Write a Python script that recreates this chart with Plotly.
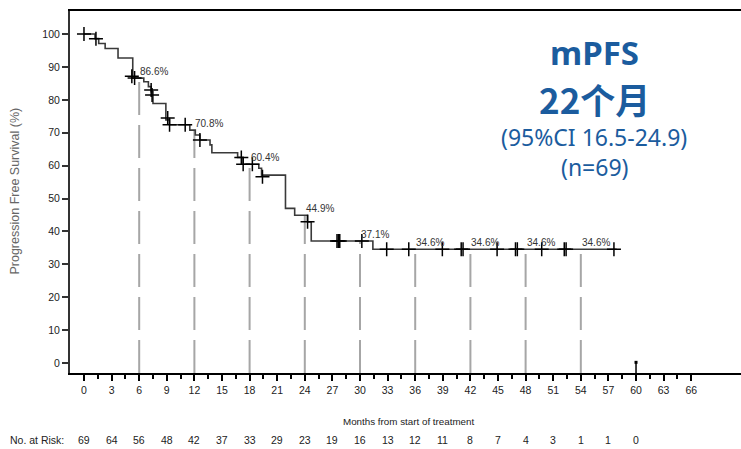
import plotly.graph_objects as go

# ---- data ----
step_t = [0, 1.2, 1.6, 2.3, 3.7, 5.3, 6.5, 7.0, 7.3, 7.5, 8.9, 9.3, 11.5, 12.1, 12.6,
          13.7, 13.9, 16.7, 17.3, 19.0, 19.3, 21.9, 22.9, 24.3, 24.7, 31.4]
step_s = [100, 98.6, 97.1, 95.6, 92.7, 86.6, 85.5, 84.0, 82.5, 78.9, 73.9, 72.4, 70.8, 69.3, 67.8,
          66.3, 63.9, 62.5, 60.4, 59.2, 57.1, 47.0, 44.9, 42.9, 37.1, 34.6]
curve_end = 57.9

cens_t = [0, 1.3, 5.2, 5.5, 7.3, 7.4, 9.1, 9.3, 11.0, 12.6, 17.1, 17.3, 18.3, 19.4, 24.3,
          27.5, 27.65, 27.8, 30.2, 32.9, 35.3, 38.95, 41.0, 41.2, 44.9, 46.9, 47.1,
          49.75, 52.2, 52.4, 57.6]
cens_s = [100, 98.6, 87.2, 86.6, 83.0, 81.5, 74.5, 72.4, 72.4, 67.8, 62.5, 60.4, 60.4, 56.6, 42.9,
          37.1, 37.1, 37.1, 37.1, 34.6, 34.6, 34.6, 34.6, 34.6, 34.6, 34.6, 34.6,
          34.6, 34.6, 34.6, 34.6]

landmark_t = [6, 12, 18, 24, 30, 36, 42, 48, 54]
landmark_s = [86.6, 70.8, 60.4, 44.9, 37.1, 34.6, 34.6, 34.6, 34.6]
landmark_lbl = ["86.6%", "70.8%", "60.4%", "44.9%", "37.1%", "34.6%", "34.6%", "34.6%", "34.6%"]

tick_months = list(range(0, 67, 3))
risk_months = list(range(0, 61, 3))
at_risk = [69, 64, 56, 48, 42, 37, 33, 29, 23, 19, 16, 13, 12, 11, 8, 7, 4, 3, 1, 1, 0]

end_mark_t = 60
end_mark_s = 0.2

YMIN, YMAX = -3.04, 107.0
XMIN, XMAX = -1.52, 71.41

SANS = "Liberation Sans, Arial, sans-serif"
BLUE = "#1B5C9E"

fig = go.Figure()

# dashed landmark lines
for t, s in zip(landmark_t, landmark_s):
    fig.add_trace(go.Scatter(x=[t, t], y=[YMIN, s], mode="lines",
                             line=dict(color="#a6a6a6", width=2, dash="33px,10px"),
                             hoverinfo="skip", showlegend=False))

# KM step curve
fig.add_trace(go.Scatter(x=step_t + [curve_end], y=step_s + [step_s[-1]], mode="lines",
                         line=dict(color="#3a3a3a", width=1.6, shape="hv"),
                         showlegend=False))

# censor marks
fig.add_trace(go.Scatter(x=cens_t, y=cens_s, mode="markers",
                         marker=dict(symbol="cross-thin", size=10,
                                     line=dict(color="black", width=1.5)),
                         showlegend=False))

# end mark at 60 months
fig.add_trace(go.Scatter(x=[end_mark_t, end_mark_t], y=[YMIN, end_mark_s], mode="lines",
                         line=dict(color="black", width=1.5), showlegend=False))
fig.add_trace(go.Scatter(x=[end_mark_t], y=[end_mark_s], mode="markers",
                         marker=dict(symbol="square", size=3, color="black"), showlegend=False))

# landmark labels
for t, s, lbl in zip(landmark_t, landmark_s, landmark_lbl):
    fig.add_annotation(x=t, y=s, text=lbl, showarrow=False, xanchor="left", yanchor="bottom",
                       xshift=-1, yshift=-1,
                       font=dict(family=SANS, size=10, color="#333333"))

# at-risk row
for t, n in zip(risk_months, at_risk):
    fig.add_annotation(x=t, y=-0.185, yref="paper", text=str(n), showarrow=False,
                       xanchor="center", yanchor="middle",
                       font=dict(family=SANS, size=10.5, color="#222222"))
fig.add_annotation(x=-0.0924, y=-0.185, xref="paper", yref="paper", text="No. at Risk:",
                   showarrow=False, xanchor="left", yanchor="middle",
                   font=dict(family=SANS, size=10.5, color="#222222"))

# x title
fig.add_annotation(x=0.505, y=-0.1326, xref="paper", yref="paper",
                   text="Months from start of treatment", showarrow=False,
                   xanchor="center", yanchor="middle",
                   font=dict(family=SANS, size=9.8, color="#222222"))
# y title
fig.add_annotation(x=-0.082, y=0.504, xref="paper", yref="paper",
                   text="Progression Free Survival (%)", showarrow=False, textangle=-90,
                   xanchor="center", yanchor="middle",
                   font=dict(family=SANS, size=12.5, color="#666666"))

# right-side summary text
fig.add_annotation(x=0.781, y=0.884, xref="paper", yref="paper", text="<b>mPFS</b>",
                   showarrow=False, xanchor="center", yanchor="middle",
                   font=dict(family="Noto Sans, sans-serif", size=33, color=BLUE))
fig.add_annotation(x=0.781, y=0.757, xref="paper", yref="paper", text="<b>22个月</b>",
                   showarrow=False, xanchor="center", yanchor="middle",
                   font=dict(family="Noto Sans CJK SC, sans-serif", size=35, color=BLUE))
fig.add_annotation(x=0.781, y=0.653, xref="paper", yref="paper", text="(95%CI 16.5-24.9)",
                   showarrow=False, xanchor="center", yanchor="middle",
                   font=dict(family="Noto Sans, sans-serif", size=23, color=BLUE))
fig.add_annotation(x=0.781, y=0.570, xref="paper", yref="paper", text="(n=69)",
                   showarrow=False, xanchor="center", yanchor="middle",
                   font=dict(family="Noto Sans, sans-serif", size=23, color=BLUE))

fig.update_xaxes(range=[XMIN, XMAX], showgrid=False, zeroline=False,
                 showline=True, linecolor="black", linewidth=2, mirror=True,
                 tickmode="array", tickvals=tick_months, ticks="outside",
                 ticklen=6, tickwidth=1.5, tickcolor="black",
                 tickfont=dict(family=SANS, size=10.5, color="#222222"),
                 minor=dict(tickmode="array", tickvals=[m + 1.5 for m in tick_months[:-1]],
                            ticks="outside", ticklen=3.5, tickwidth=1.5, tickcolor="black"))
fig.update_yaxes(range=[YMIN, YMAX], showgrid=False, zeroline=False,
                 showline=True, linecolor="#333333", linewidth=2,
                 tickmode="array", tickvals=list(range(0, 101, 10)), ticks="outside",
                 ticklen=6, tickwidth=1.5, tickcolor="#333333",
                 tickfont=dict(family=SANS, size=10.5, color="#222222"))

fig.update_layout(width=741, height=449, margin=dict(l=70, r=0, t=11, b=76),
                  plot_bgcolor="white", paper_bgcolor="white", showlegend=False)

fig.write_html("out.html", config={"displayModeBar": False},
               post_script="document.body.style.margin='0';document.body.style.overflow='hidden';")
